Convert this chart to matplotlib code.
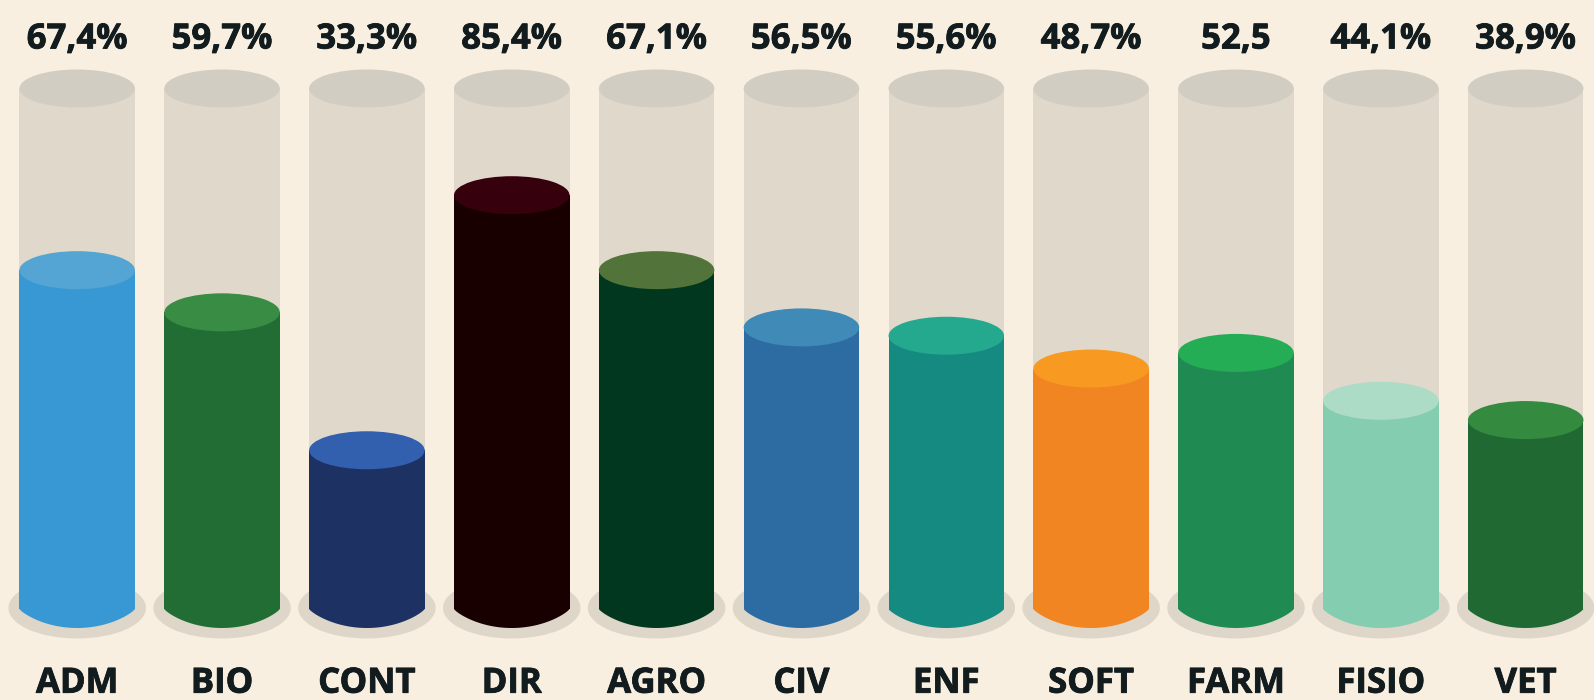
import matplotlib
matplotlib.use("Agg")
import matplotlib.pyplot as plt
import matplotlib.patheffects as pe
import numpy as np
from matplotlib.patches import Ellipse, Polygon, Rectangle

W, H = 1594, 700

courses = ["ADM", "BIO", "CONT", "DIR", "AGRO", "CIV", "ENF", "SOFT", "FARM", "FISIO", "VET"]
value_labels = ["67,4%", "59,7%", "33,3%", "85,4%", "67,1%", "56,5%", "55,6%", "48,7%", "52,5", "44,1%", "38,9%"]
# fill height, as % of the tube (labels and fills are not proportional in the original)
fill_levels = [65.1, 57.0, 30.5, 79.5, 65.1, 54.1, 52.5, 46.2, 49.2, 40.0, 36.3]
body_colors = ["#3798d3", "#226d34", "#1e3163", "#180000", "#00371e", "#2c6ca3",
               "#148a80", "#f18522", "#1f8b52", "#85cdb0", "#216932"]
top_colors = ["#54a5d4", "#388c44", "#325fae", "#36000c", "#52743a", "#3f8ab6",
              "#24a98e", "#f89a22", "#25ad56", "#addcc6", "#348a3f"]

BG = "#f8efe0"
TUBE = "#e0d9cb"
TUBE_TOP = "#d1cdc2"
SHADOW = "#ddd6c9"
INK = "#121c1e"

# pixel geometry of the tubes
X0, DX = 77.2, 144.85
BASE_Y, TOP_Y = 609.0, 88.5
PX_PER_LEVEL = (BASE_Y - TOP_Y) / 100
tube_w = 115.5 / DX
ell_h = 38 / PX_PER_LEVEL
shadow_w = 137.5 / DX
shadow_h = 61 / PX_PER_LEVEL


def tube_bottom(cx, w, h, color, z):
    # the bottom of the tubes is a flat arc with sharp corners, not half an ellipse
    u = np.linspace(-1, 1, 121)
    x = cx + u * w / 2
    y = -h / 2 * (1 - u ** 2) ** 0.82
    return Polygon(np.column_stack([x, y]), closed=True, fc=color, ec="none", zorder=z)


fig = plt.figure(figsize=(W / 100, H / 100), dpi=100, facecolor=BG)
ax = fig.add_axes([0, 0, 1, 1])
ax.set_xlim(-X0 / DX, (W - X0) / DX)
ax.set_ylim((BASE_Y - H) / PX_PER_LEVEL, BASE_Y / PX_PER_LEVEL)
ax.axis("off")

font = {"family": ["Open Sans", "DejaVu Sans"], "weight": "bold", "color": INK, "size": 25}
heavier = [pe.withStroke(linewidth=0.6, foreground=INK)]

for i, name in enumerate(courses):
    level = fill_levels[i]
    ax.add_patch(Ellipse((i, 0.2), shadow_w, shadow_h, fc=SHADOW, ec="none", zorder=1))
    # empty tube
    ax.add_patch(Rectangle((i - tube_w / 2, 0), tube_w, 100, fc=TUBE, ec="none", zorder=2))
    ax.add_patch(Ellipse((i, 100), tube_w, ell_h, fc=TUBE_TOP, ec="none", zorder=3))
    # liquid
    ax.add_patch(tube_bottom(i, tube_w, ell_h, body_colors[i], 4))
    ax.add_patch(Rectangle((i - tube_w / 2, 0), tube_w, level, fc=body_colors[i], ec="none", zorder=4))
    ax.add_patch(Ellipse((i, level), tube_w, ell_h, fc=top_colors[i], ec="none", zorder=5))

    trans = ax.get_xaxis_transform()
    ax.text(i, 1 - 48.5 / H, value_labels[i], transform=trans, ha="center", va="baseline",
            path_effects=heavier, **font)
    ax.text(i, 1 - 692.7 / H, name, transform=trans, ha="center", va="baseline",
            path_effects=heavier, **font)

fig.savefig("out.png", dpi=100, facecolor=BG)
